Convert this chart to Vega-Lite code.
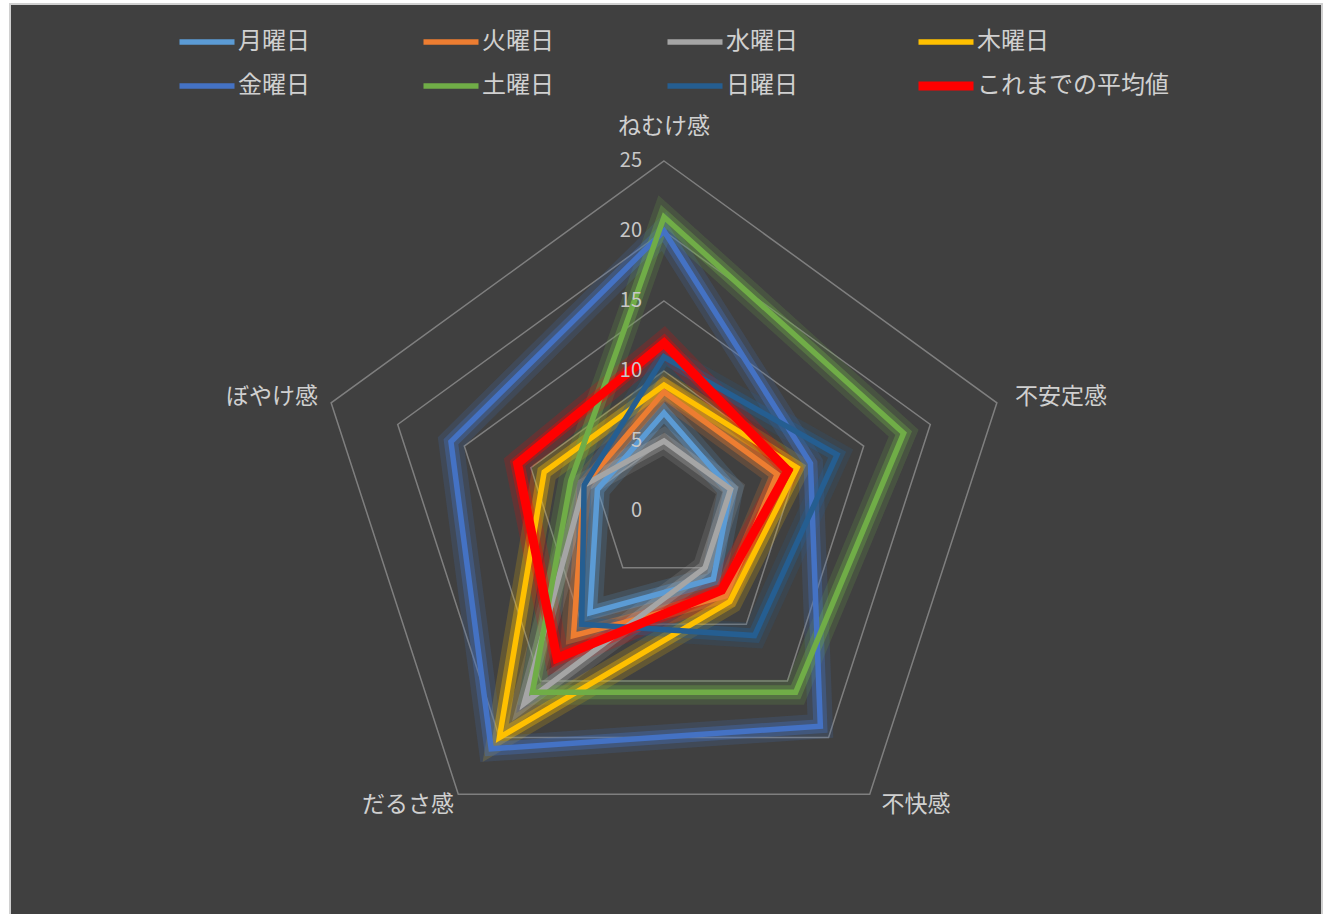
{
  "$schema": "https://vega.github.io/schema/vega-lite/v6.json",
  "width": 1312,
  "height": 912,
  "autosize": {"type": "none"},
  "padding": {"left": 10, "top": 4, "right": 2, "bottom": 0},
  "background": "#ffffff",
  "config": {
    "view": {"fill": "#404040", "stroke": "#d0d0d0", "strokeWidth": 2},
    "font": "Noto Sans CJK JP"
  },
  "datasets": {
    "series": [
      {"series": "月曜日", "k": 0, "v": 7},
      {"series": "月曜日", "k": 1, "v": 5},
      {"series": "月曜日", "k": 2, "v": 6},
      {"series": "月曜日", "k": 3, "v": 9},
      {"series": "月曜日", "k": 4, "v": 5},
      {"series": "火曜日", "k": 0, "v": 8.5},
      {"series": "火曜日", "k": 1, "v": 8.5},
      {"series": "火曜日", "k": 2, "v": 7.5},
      {"series": "火曜日", "k": 3, "v": 11},
      {"series": "火曜日", "k": 4, "v": 6},
      {"series": "水曜日", "k": 0, "v": 5},
      {"series": "水曜日", "k": 1, "v": 5},
      {"series": "水曜日", "k": 2, "v": 5},
      {"series": "水曜日", "k": 3, "v": 17},
      {"series": "水曜日", "k": 4, "v": 6},
      {"series": "木曜日", "k": 0, "v": 9},
      {"series": "木曜日", "k": 1, "v": 10},
      {"series": "木曜日", "k": 2, "v": 8},
      {"series": "木曜日", "k": 3, "v": 20},
      {"series": "木曜日", "k": 4, "v": 9},
      {"series": "金曜日", "k": 0, "v": 20},
      {"series": "金曜日", "k": 1, "v": 11},
      {"series": "金曜日", "k": 2, "v": 19},
      {"series": "金曜日", "k": 3, "v": 21},
      {"series": "金曜日", "k": 4, "v": 16},
      {"series": "土曜日", "k": 0, "v": 21},
      {"series": "土曜日", "k": 1, "v": 18},
      {"series": "土曜日", "k": 2, "v": 16},
      {"series": "土曜日", "k": 3, "v": 16},
      {"series": "土曜日", "k": 4, "v": 7},
      {"series": "日曜日", "k": 0, "v": 11},
      {"series": "日曜日", "k": 1, "v": 13},
      {"series": "日曜日", "k": 2, "v": 11},
      {"series": "日曜日", "k": 3, "v": 10},
      {"series": "日曜日", "k": 4, "v": 6},
      {"series": "これまでの平均値", "k": 0, "v": 12},
      {"series": "これまでの平均値", "k": 1, "v": 9.3},
      {"series": "これまでの平均値", "k": 2, "v": 7},
      {"series": "これまでの平均値", "k": 3, "v": 13},
      {"series": "これまでの平均値", "k": 4, "v": 11}
    ],
    "grid": [
      {"level": 5, "k": 0}, {"level": 5, "k": 1}, {"level": 5, "k": 2}, {"level": 5, "k": 3}, {"level": 5, "k": 4},
      {"level": 10, "k": 0}, {"level": 10, "k": 1}, {"level": 10, "k": 2}, {"level": 10, "k": 3}, {"level": 10, "k": 4},
      {"level": 15, "k": 0}, {"level": 15, "k": 1}, {"level": 15, "k": 2}, {"level": 15, "k": 3}, {"level": 15, "k": 4},
      {"level": 20, "k": 0}, {"level": 20, "k": 1}, {"level": 20, "k": 2}, {"level": 20, "k": 3}, {"level": 20, "k": 4},
      {"level": 25, "k": 0}, {"level": 25, "k": 1}, {"level": 25, "k": 2}, {"level": 25, "k": 3}, {"level": 25, "k": 4}
    ],
    "ticks": [
      {"level": 0}, {"level": 5}, {"level": 10}, {"level": 15}, {"level": 20}, {"level": 25}
    ],
    "cats": [
      {"label": "ねむけ感", "k": 0},
      {"label": "不安定感", "k": 1},
      {"label": "不快感", "k": 2},
      {"label": "だるさ感", "k": 3},
      {"label": "ぼやけ感", "k": 4}
    ]
  },
  "encoding": {
    "x": {"field": "x", "type": "quantitative", "scale": {"domain": [-46.714, 47.0], "nice": false, "zero": false}, "axis": null},
    "y": {"field": "y", "type": "quantitative", "scale": {"domain": [-28.929, 36.214], "nice": false, "zero": false}, "axis": null}
  },
  "layer": [
    {
      "data": {"name": "grid"},
      "transform": [
        {"calculate": "datum.k * 2 * PI / 5", "as": "a"},
        {"calculate": "datum.level * sin(datum.a)", "as": "x"},
        {"calculate": "datum.level * cos(datum.a)", "as": "y"}
      ],
      "mark": {"type": "line", "interpolate": "linear-closed", "stroke": "#7f7f7f", "strokeWidth": 1.5},
      "encoding": {
        "order": {"field": "k", "type": "quantitative"},
        "detail": {"field": "level", "type": "nominal"}
      }
    },
    {
      "data": {"name": "cats"},
      "transform": [
        {"calculate": "[0, 28.36, 18.0, -18.29, -28.0][datum.k]", "as": "x"},
        {"calculate": "[27.43, 8.14, -21.0, -21.0, 8.14][datum.k]", "as": "y"}
      ],
      "mark": {"type": "text", "align": "center", "baseline": "middle", "fontSize": 23, "color": "#d0d0d0"},
      "encoding": {"text": {"field": "label", "type": "nominal"}}
    },
    {
      "data": {"name": "series"},
      "transform": [
        {"calculate": "datum.k * 2 * PI / 5", "as": "a"},
        {"calculate": "datum.v * sin(datum.a)", "as": "x"},
        {"calculate": "datum.v * cos(datum.a)", "as": "y"}
      ],
      "mark": {"type": "line", "interpolate": "linear-closed", "strokeWidth": 25, "opacity": 0.18},
      "encoding": {
        "order": {"field": "k", "type": "quantitative"},
        "color": {"field": "series", "type": "nominal", "sort": null,
          "scale": {"domain": ["月曜日", "火曜日", "水曜日", "木曜日", "金曜日", "土曜日", "日曜日", "これまでの平均値"],
                    "range": ["#5B9BD5", "#ED7D31", "#A5A5A5", "#FFC000", "#4472C4", "#70AD47", "#255E91", "#FF0000"]}}
      }
    },
    {
      "data": {"name": "series"},
      "transform": [
        {"calculate": "datum.k * 2 * PI / 5", "as": "a"},
        {"calculate": "datum.v * sin(datum.a)", "as": "x"},
        {"calculate": "datum.v * cos(datum.a)", "as": "y"}
      ],
      "mark": {"type": "line", "interpolate": "linear-closed", "strokeWidth": 14, "opacity": 0.35},
      "encoding": {
        "order": {"field": "k", "type": "quantitative"},
        "color": {"field": "series", "type": "nominal", "sort": null}
      }
    },
    {
      "data": {"name": "series"},
      "transform": [
        {"filter": "datum.series !== 'これまでの平均値'"},
        {"calculate": "datum.k * 2 * PI / 5", "as": "a"},
        {"calculate": "datum.v * sin(datum.a)", "as": "x"},
        {"calculate": "datum.v * cos(datum.a)", "as": "y"}
      ],
      "mark": {"type": "line", "interpolate": "linear-closed", "strokeWidth": 5.5, "opacity": 1},
      "encoding": {
        "order": {"field": "k", "type": "quantitative"},
        "color": {"field": "series", "type": "nominal", "sort": null,
          "legend": {"title": null, "orient": "none", "legendX": 185, "legendY": 26, "direction": "horizontal", "columns": 4,
            "columnPadding": 102, "rowPadding": 14, "padding": 0, "offset": 0,
            "symbolType": "stroke", "symbolSize": 3025, "symbolOpacity": 1, "symbolStrokeWidth": 5.5,
            "labelFont": "Noto Sans CJK JP", "labelFontSize": 24, "labelColor": "#d0d0d0", "labelOffset": 19, "labelLimit": 400,
            "encode": {"symbols": {"update": {"strokeWidth": {"signal": "datum.value === 'これまでの平均値' ? 9 : 5.5"}, "opacity": {"value": 1}}}}}}
      }
    },
    {
      "data": {"name": "series"},
      "transform": [
        {"filter": "datum.series === 'これまでの平均値'"},
        {"calculate": "datum.k * 2 * PI / 5", "as": "a"},
        {"calculate": "datum.v * sin(datum.a)", "as": "x"},
        {"calculate": "datum.v * cos(datum.a)", "as": "y"}
      ],
      "mark": {"type": "line", "interpolate": "linear-closed", "strokeWidth": 9, "opacity": 1},
      "encoding": {
        "order": {"field": "k", "type": "quantitative"},
        "color": {"field": "series", "type": "nominal", "sort": null}
      }
    },
    {
      "data": {"name": "ticks"},
      "transform": [
        {"calculate": "-1.57", "as": "x"},
        {"calculate": "datum.level", "as": "y"}
      ],
      "mark": {"type": "text", "align": "right", "baseline": "middle", "fontSize": 20, "color": "#c8c8c8"},
      "encoding": {"text": {"field": "level", "type": "quantitative"}}
    }
  ]
}
